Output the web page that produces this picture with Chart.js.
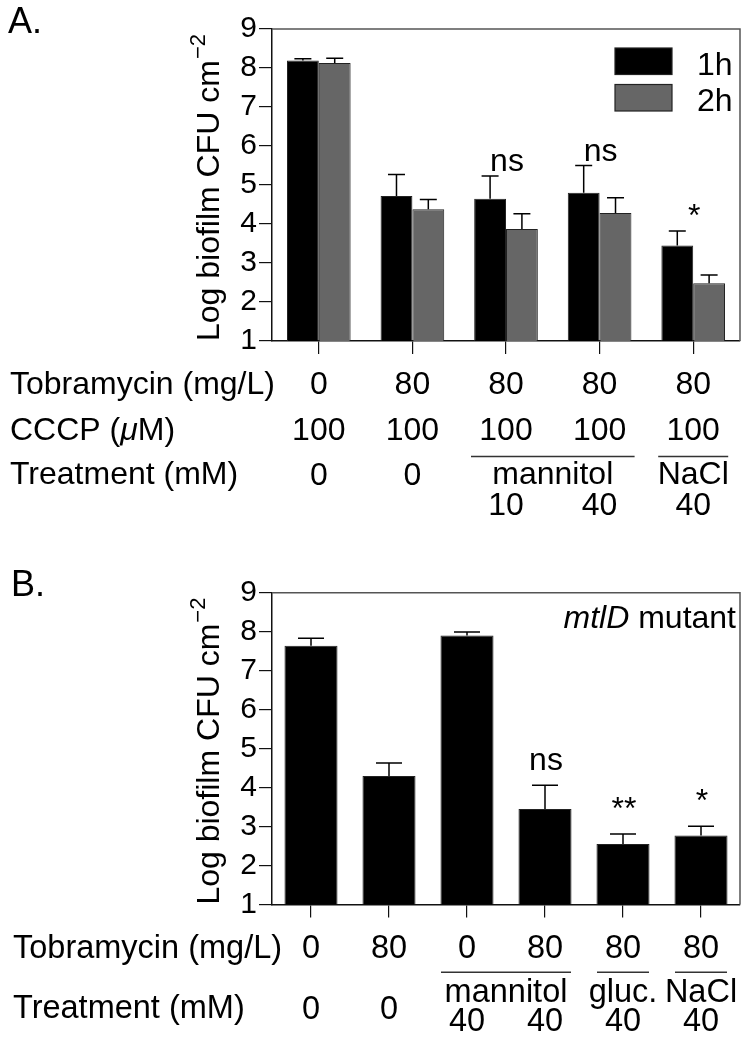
<!DOCTYPE html>
<html>
<head>
<meta charset="utf-8">
<script src="https://cdn.jsdelivr.net/npm/chart.js@4.4.0/dist/chart.umd.min.js"></script>
<style>
  body { margin: 0; background: #fff; }
  canvas { display: block; }
</style>
</head>
<body>
<canvas id="chartA" width="749" height="520"></canvas>
<canvas id="chartB" width="749" height="518"></canvas>
<script>
// Panel A: CCCP treated biofilms, 1h and 2h
const groupsA = ['Tob 0', 'Tob 80', 'Tob 80 + mannitol 10', 'Tob 80 + mannitol 40', 'Tob 80 + NaCl 40'];
const oneHour = [8.19, 4.72, 4.65, 4.80, 3.45];
const oneHourErr = [0.05, 0.55, 0.58, 0.70, 0.37];
const twoHour = [8.13, 4.38, 3.87, 4.28, 2.48];
const twoHourErr = [0.12, 0.25, 0.39, 0.39, 0.21];
const signifA = ['', '', 'ns', 'ns', '*'];
const tobraA = ['0', '80', '80', '80', '80'];
const cccpA = ['100', '100', '100', '100', '100'];
const doseA = ['0', '0', '10', '40', '40'];
const treatGroupsA = [['mannitol', 2, 3], ['NaCl', 4, 4]];

// Panel B: mtlD mutant
const groupsB = ['Tob 0', 'Tob 80', 'mannitol 40', 'Tob 80 + mannitol 40', 'Tob 80 + gluc. 40', 'Tob 80 + NaCl 40'];
const mutant = [7.64, 4.30, 7.90, 3.45, 2.55, 2.77];
const mutantErr = [0.19, 0.33, 0.09, 0.61, 0.26, 0.24];
const signifB = ['', '', '', 'ns', '**', '*'];
const tobraB = ['0', '80', '0', '80', '80', '80'];
const doseB = ['0', '0', '40', '40', '40', '40'];
const treatGroupsB = [['mannitol', 2, 3], ['gluc.', 4, 4], ['NaCl', 5, 5]];

const yMin = 1;
const yMax = 9;

const FAMILY = "'Liberation Sans', Arial, Helvetica, sans-serif";
const font = (size, style) => (style ? style + ' ' : '') + size + 'px ' + FAMILY;

// writes a label made of [text, style] pieces, left aligned
function drawParts(ctx, parts, x, y, size) {
  ctx.textAlign = 'left';
  parts.forEach(p => {
    ctx.font = font(size, p[1]);
    ctx.fillText(p[0], x, y);
    x += ctx.measureText(p[0]).width;
  });
}

// draws error bars, labels, legend, table under the axis
const figurePlugin = {
  id: 'figure',
  afterDatasetsDraw(chart, args, o) {
    const ctx = chart.ctx;
    const area = chart.chartArea;
    const xs = chart.scales.x;
    const ys = chart.scales.y;
    ctx.save();

    // box top and right
    ctx.strokeStyle = '#555';
    ctx.lineWidth = 1.5;
    ctx.beginPath();
    ctx.moveTo(area.left, area.top);
    ctx.lineTo(area.right, area.top);
    ctx.lineTo(area.right, area.bottom);
    ctx.stroke();

    // error bars (upper only)
    ctx.strokeStyle = '#000';
    ctx.lineWidth = 1.5;
    chart.data.datasets.forEach((ds, i) => {
      chart.getDatasetMeta(i).data.forEach((bar, j) => {
        const top = ys.getPixelForValue(ds.data[j] + ds.errors[j]);
        ctx.beginPath();
        ctx.moveTo(bar.x, bar.y);
        ctx.lineTo(bar.x, top);
        ctx.moveTo(bar.x - o.cap / 2, top);
        ctx.lineTo(bar.x + o.cap / 2, top);
        ctx.stroke();
      });
    });

    // significance marks
    ctx.fillStyle = '#000';
    ctx.textAlign = 'center';
    ctx.textBaseline = 'alphabetic';
    ctx.font = font(32);
    o.signif.forEach((s, j) => {
      if (!s) return;
      let hi = -Infinity;
      chart.data.datasets.forEach(ds => { hi = Math.max(hi, ds.data[j] + ds.errors[j]); });
      ctx.fillText(s, xs.getPixelForValue(j) + 1, ys.getPixelForValue(hi) - o.gap);
    });

    // legend
    if (o.legend) {
      chart.data.datasets.forEach((ds, i) => {
        const bx = area.right - 125, by = area.top + 19 + i * 36.5;
        ctx.fillStyle = ds.backgroundColor;
        ctx.fillRect(bx, by, 57, 26.5);
        ctx.strokeStyle = '#222';
        ctx.lineWidth = 1.2;
        ctx.strokeRect(bx, by, 57, 26.5);
        ctx.fillStyle = '#000';
        ctx.textAlign = 'left';
        ctx.font = font(32);
        ctx.fillText(ds.label, area.right - 43, by + 26.5);
      });
    }

    // inset note
    if (o.note) {
      ctx.font = font(32);
      const w2 = ctx.measureText(o.note[1][0]).width;
      ctx.font = font(32, 'italic');
      const w1 = ctx.measureText(o.note[0][0]).width;
      drawParts(ctx, o.note, area.right - 4 - w1 - w2, area.top + 35.5, 32);
    }
    ctx.restore();
  },
  afterDraw(chart, args, o) {
    const ctx = chart.ctx;
    const area = chart.chartArea;
    const xs = chart.scales.x;
    ctx.save();
    ctx.fillStyle = '#000';
    ctx.textBaseline = 'alphabetic';

    // panel letter
    ctx.font = font(36);
    ctx.textAlign = 'left';
    ctx.fillText(o.letter, o.letterPos[0], o.letterPos[1]);

    // y axis title with superscript
    const main = 'Log biofilm CFU cm';
    const sup = '\u22122';
    ctx.font = font(32);
    const wm = ctx.measureText(main).width;
    ctx.font = font(22);
    const ws = ctx.measureText(sup).width;
    ctx.translate(219, (area.top + area.bottom) / 2 + 3);
    ctx.rotate(-Math.PI / 2);
    const sx = -(wm + ws) / 2;
    ctx.font = font(32);
    ctx.fillText(main, sx, 0);
    ctx.font = font(22);
    ctx.fillText(sup, sx + wm + 1, -14);
    ctx.setTransform(1, 0, 0, 1, 0, 0);

    // table under the x axis
    const fs = o.tableFont;
    o.rows.forEach(r => {
      drawParts(ctx, r.label, o.labelX, r.base, fs);
      ctx.font = font(fs);
      ctx.textAlign = 'center';
      r.values.forEach((v, j) => ctx.fillText(v, xs.getPixelForValue(j), r.base));
    });
    const t = o.treat;
    drawParts(ctx, t.label, o.labelX, t.base, fs);
    ctx.font = font(fs);
    ctx.textAlign = 'center';
    const grouped = new Set();
    t.groups.forEach(g => {
      const x1 = xs.getPixelForValue(g[1]) - t.ext;
      const x2 = xs.getPixelForValue(g[2]) + t.ext;
      for (let k = g[1]; k <= g[2]; k++) grouped.add(k);
      ctx.strokeStyle = '#333';
      ctx.lineWidth = 1.5;
      ctx.beginPath();
      ctx.moveTo(x1, t.lineY);
      ctx.lineTo(x2, t.lineY);
      ctx.stroke();
      ctx.fillText(g[0], (x1 + x2) / 2, t.groupBase);
    });
    t.doses.forEach((d, j) => {
      const yb = grouped.has(j) ? t.doseBase : t.base + 1;
      ctx.fillText(d, xs.getPixelForValue(j), yb);
    });
    ctx.restore();
  }
};

function makeScales(xHeight) {
  return {
    x: {
      type: 'category',
      offset: true,
      grid: { offset: false, drawOnChartArea: false, drawTicks: true, tickLength: 13, color: '#111', lineWidth: 1.2 },
      ticks: { display: false },
      border: { display: true, color: '#111', width: 1.5 },
      afterFit(scale) { scale.height = xHeight; }
    },
    y: {
      min: yMin,
      max: yMax,
      grid: { drawOnChartArea: false, drawTicks: true, tickLength: 13, color: '#111', lineWidth: 1.2 },
      ticks: { stepSize: 1, autoSkip: false, color: '#000', font: { family: FAMILY, size: 30 }, padding: 2 },
      border: { display: true, color: '#111', width: 1.5 },
      afterFit(scale) { scale.width = 272; }
    }
  };
}

const chartA = new Chart(document.getElementById('chartA').getContext('2d'), {
  type: 'bar',
  data: {
    labels: groupsA,
    datasets: [
      { label: '1h', data: oneHour, errors: oneHourErr, backgroundColor: '#000000', borderColor: '#222', borderWidth: 1 },
      { label: '2h', data: twoHour, errors: twoHourErr, backgroundColor: '#666666', borderColor: '#222', borderWidth: 1 }
    ]
  },
  options: {
    responsive: false,
    animation: false,
    layout: { padding: { left: 0, top: 29, right: 9, bottom: 0 } },
    datasets: { bar: { categoryPercentage: 0.68, barPercentage: 1.0 } },
    scales: makeScales(179),
    plugins: {
      legend: { display: false },
      tooltip: { enabled: false },
      figure: {
        letter: 'A.', letterPos: [8, 33],
        cap: 17, gap: 5, signif: signifA, legend: true,
        tableFont: 32, labelX: 10,
        rows: [
          { label: [['Tobramycin (mg/L)', '']], values: tobraA, base: 394 },
          { label: [['CCCP (', ''], ['\u03BC', 'italic'], ['M)', '']], values: cccpA, base: 440 }
        ],
        treat: { label: [['Treatment (mM)', '']], base: 484, doses: doseA, groups: treatGroupsA,
                 lineY: 456.5, groupBase: 484, doseBase: 515, ext: 35 }
      }
    }
  },
  plugins: [figurePlugin]
});

const chartB = new Chart(document.getElementById('chartB').getContext('2d'), {
  type: 'bar',
  data: {
    labels: groupsB,
    datasets: [
      { label: 'mtlD mutant', data: mutant, errors: mutantErr, backgroundColor: '#000000', borderColor: '#222', borderWidth: 1 }
    ]
  },
  options: {
    responsive: false,
    animation: false,
    layout: { padding: { left: 0, top: 72.7, right: 9, bottom: 0 } },
    datasets: { bar: { categoryPercentage: 0.68, barPercentage: 1.0 } },
    scales: makeScales(133.5),
    plugins: {
      legend: { display: false },
      tooltip: { enabled: false },
      figure: {
        letter: 'B.', letterPos: [11, 76],
        cap: 26, gap: 15, signif: signifB, legend: false,
        note: [['mtlD', 'italic'], [' mutant', '']],
        tableFont: 32.5, labelX: 13,
        rows: [
          { label: [['Tobramycin (mg/L)', '']], values: tobraB, base: 438 }
        ],
        treat: { label: [['Treatment (mM)', '']], base: 498, doses: doseB, groups: treatGroupsB,
                 lineY: 452.3, groupBase: 481.7, doseBase: 511, ext: 26 }
      }
    }
  },
  plugins: [figurePlugin]
});
</script>
</body>
</html>
